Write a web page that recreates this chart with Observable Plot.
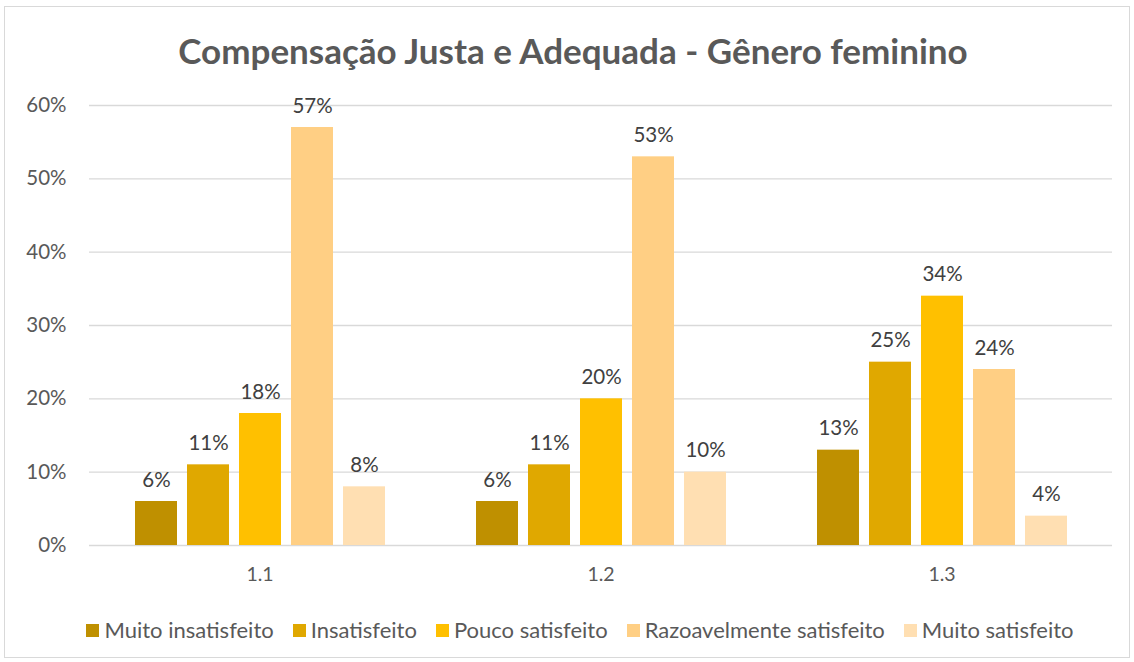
<!DOCTYPE html>
<html><head><meta charset="utf-8">
<script src="https://cdn.jsdelivr.net/npm/d3@7"></script>
<script src="https://cdn.jsdelivr.net/npm/@observablehq/plot@0.6"></script>
<style>
body{margin:0;background:#fff;font-family:Lato,"Open Sans",sans-serif;}
#wrap{position:relative;width:1134px;height:662px;overflow:hidden;}
#border{position:absolute;left:4px;top:6px;width:1126px;height:652px;border:1px solid #d9d9d9;box-sizing:border-box;}
#title{position:absolute;left:0;top:29px;width:1146px;text-align:center;font-size:35px;line-height:42px;font-weight:bold;color:#595959;}
#chart{position:absolute;left:0;top:80px;}
#legend{position:absolute;left:0;top:616px;width:1160px;display:flex;justify-content:center;gap:19px;font-size:22px;line-height:28px;color:#595959;}
#legend span.it{display:flex;align-items:center;gap:5px;}
#legend i{display:inline-block;width:13px;height:13px;}
</style></head>
<body><div id="wrap"><div id="border"></div><div id="title">Compensação Justa e Adequada - Gênero feminino</div><div id="chart"></div><div id="legend"></div></div>
<script>
const groups = ["1.1", "1.2", "1.3"];
const series = ["Muito insatisfeito", "Insatisfeito", "Pouco satisfeito", "Razoavelmente satisfeito", "Muito satisfeito"];
const colors = ["#BF9000", "#E0A800", "#FFC000", "#FFCF84", "#FFDFB2"];
const muitoInsatisfeito = [6, 6, 13];
const insatisfeito = [11, 11, 25];
const poucoSatisfeito = [18, 20, 34];
const razoavelmente = [57, 53, 24];
const muitoSatisfeito = [8, 10, 4];
const yTicks = [0, 10, 20, 30, 40, 50, 60];

const valueArrays = [muitoInsatisfeito, insatisfeito, poucoSatisfeito, razoavelmente, muitoSatisfeito];
const data = [];
groups.forEach((g, gi) => series.forEach((s, si) => data.push({group: g, series: s, value: valueArrays[si][gi]})));

const chart = Plot.plot({
  width: 1134,
  height: 520,
  marginLeft: 89,
  marginRight: 22,
  marginTop: 25,
  marginBottom: 55,
  style: {fontFamily: "Lato, 'Open Sans', sans-serif", background: "transparent"},
  fx: {domain: groups, paddingInner: 0, paddingOuter: 0, label: null, axis: null},
  x: {domain: series, paddingInner: 0.195, paddingOuter: 0.863, axis: null},
  y: {domain: [0, 60], ticks: yTicks, label: null, axis: null},
  color: {domain: series, range: colors},
  marks: [
    Plot.gridY(yTicks, {stroke: "#d9d9d9", strokeOpacity: 1, strokeWidth: 1.3}),
    Plot.axisY({ticks: yTicks, tickFormat: d => d + "%", tickSize: 0, tickPadding: 23, fontSize: 20.5, fill: "#595959", label: null}),
    Plot.axisFx({anchor: "bottom", tickSize: 0, tickPadding: 22, fontSize: 19.5, fill: "#595959", label: null}),
    Plot.barY(data, {fx: "group", x: "series", y: "value", fill: "series"}),
    Plot.text(data, {fx: "group", x: "series", y: "value", text: d => d.value + "%", lineAnchor: "bottom", dy: -15, fontSize: 20.5, fill: "#404040"})
  ]
});
document.getElementById("chart").appendChild(chart);

const legend = document.getElementById("legend");
series.forEach((s, i) => {
  const it = document.createElement("span");
  it.className = "it";
  it.innerHTML = `<i style="background:${colors[i]}"></i>${s}`;
  legend.appendChild(it);
});
</script></body></html>
